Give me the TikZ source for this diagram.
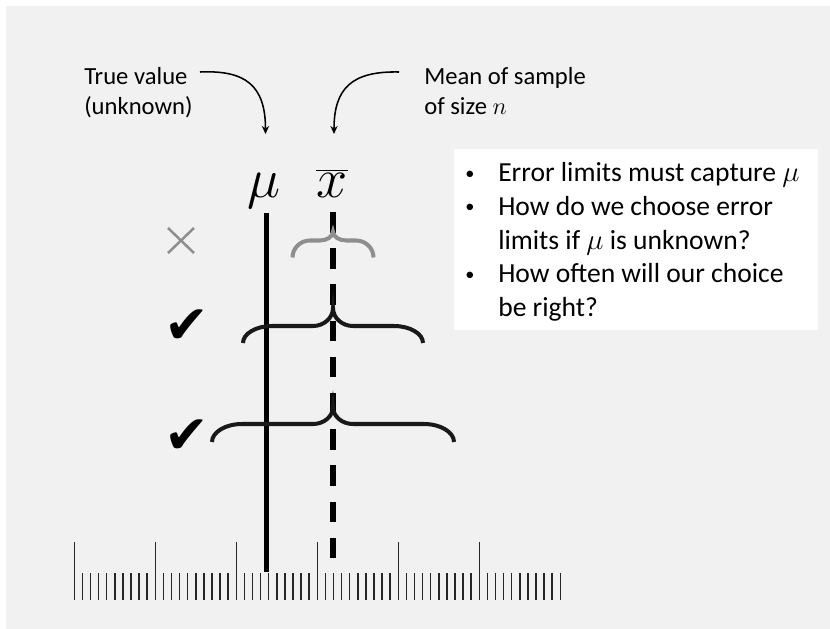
\documentclass[tikz,border=0pt]{standalone}
\usepackage{graphicx}
\usepackage{fontspec}
\setmainfont{Carlito}
\newfontfamily\symbolfont{DejaVu Sans}
\usetikzlibrary{arrows.meta}

\definecolor{panelgray}{HTML}{F1F1F1}
\definecolor{missgray}{HTML}{8E8E8E}

% horizontal brace, tip up: half width / rise of ends / rise of tip / end curve / tip curve
\tikzset{
  pics/limits/.style args={#1/#2/#3/#4/#5}{code={
    \draw[pic actions] (-#1,0) .. controls (-#1,-0.55*#2) and (-#1+0.45*#4,-#2) .. (-#1+#4,-#2)
      -- (-#5,-#2) .. controls (-0.45*#5,-#2) and (0,-#2-0.45*#3) .. (0,-#2-#3)
      .. controls (0,-#2-0.45*#3) and (0.45*#5,-#2) .. (#5,-#2)
      -- (#1-#4,-#2) .. controls (#1-0.45*#4,-#2) and (#1,-0.55*#2) .. (#1,0);
  }},
}
\newcommand\bigsym[1]{\scalebox{1.6}{$#1$}}

\begin{document}
\begin{tikzpicture}[x=0.025cm, y=-0.025cm,
    callout/.style={font=\fontsize{17.5}{21}\selectfont, inner sep=0pt, anchor=base west},
    notes/.style={font=\fontsize{19.6}{24}\selectfont, inner sep=0pt, anchor=base west},
    bullet/.style={font=\fontsize{13}{13}\selectfont, inner sep=0pt, anchor=center},
    symbol/.style={font=\fontsize{24.88}{30}\selectfont, inner sep=0pt, anchor=base},
    okmark/.style={font=\symbolfont\fontsize{38}{38}\selectfont, inner sep=0pt},
    pointer/.style={line width=1.1pt, -{Stealth[length=2mm, width=1.8mm]}},
    tick/.style={line width=1.07pt, black!85},
    bracket/.style={draw=black!90, line width=2.85pt}]
  \useasboundingbox (0,0) rectangle (830,629);
  \fill[panelgray] (6,6) rectangle (830,629);
  \fill[white] (454,149) rectangle (818,330);

  % ruler
  \foreach \i in {0,...,60}
    \draw[tick] (74.3+8.1*\i,573) -- (74.3+8.1*\i,600);
  \foreach \i in {0,10,...,50}
    \draw[tick] (74.3+8.1*\i,542) -- (74.3+8.1*\i,573);

  % labels and pointers
  \node[callout] (true1) at (84,85) {True value};
  \node[callout] (true2) at (84,114.5) {(unknown)};
  \node[callout] (mean1) at (424,85) {Mean of sample};
  \node[callout] (mean2) at (424,114.5) {of size $n$};
  \coordinate (truestart) at (200,72);
  \coordinate (meanstart) at (399,72);
  \coordinate (trueend) at (265.5,134);
  \coordinate (meanend) at (334,134);
  \draw[pointer] (truestart) .. controls (245,70) and (265.5,85) .. (trueend);
  \draw[pointer] (meanstart) .. controls (352,71) and (334,88) .. (meanend);

  \node[symbol] (mu) at (264,198) {\bigsym{\mu}};
  \node[symbol] (xbar) at (332,198) {\bigsym{\overline{x}}};

  % true value and sample mean
  \coordinate (mutop) at (266.5,213);
  \coordinate (mubot) at (266.5,572);
  \coordinate (xtop) at (333,212);
  \coordinate (xbot) at (333,559);
  \draw[line width=2.9pt] (mutop) -- (mubot);
  \draw[line width=3.9pt, dash pattern=on 0.5125cm off 0.3925cm] (xtop) -- (xbot);

  % error limits
  \pic[bracket] at (333,343) {limits=90/17/18/29/20};
  \pic[bracket] at (333,442) {limits=121/18/17/30/20};
  \pic[bracket, draw=missgray] at (333,257.5) {limits=40.5/17/9/17.5/13};

  \draw[missgray, line width=1.8pt] (168,228) -- (194,253) (168,253) -- (194,228);
  \node[okmark] (ok1) at (187,327) {✔};
  \node[okmark] (ok2) at (187,437) {✔};

  % notes
  \node[bullet] (dot1) at (470,175) {\textbullet};
  \node[bullet] (dot2) at (470,208.5) {\textbullet};
  \node[bullet] (dot3) at (470,276) {\textbullet};
  \node[notes] (note1) at (498,182) {Error limits must capture $\mu$};
  \node[notes] (note2) at (498,215.5) {How do we choose error};
  \node[notes] (note2b) at (498,249.5) {limits if $\mu$ is unknown?};
  \node[notes] (note3) at (498,283) {How often will our choice};
  \node[notes] (note3b) at (498,317) {be right?};
\end{tikzpicture}
\end{document}
